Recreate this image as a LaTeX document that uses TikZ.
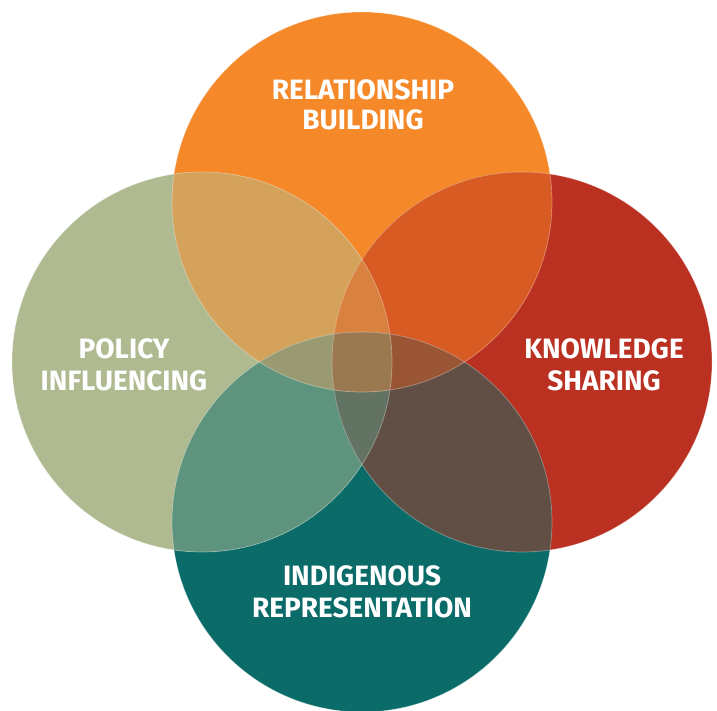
\documentclass[tikz,border=0pt]{standalone}
\usepackage{fontspec}
\setmainfont{Fira Sans}
\definecolor{cT}{HTML}{F5892A}
\definecolor{cR}{HTML}{BA3021}
\definecolor{cB}{HTML}{0B6B69}
\definecolor{cL}{HTML}{AFBA91}
\definecolor{cTL}{HTML}{D4A25A}
\definecolor{cTR}{HTML}{D75B23}
\definecolor{cLB}{HTML}{5E947E}
\definecolor{cRB}{HTML}{614F45}
\definecolor{cTLR}{HTML}{D98240}
\definecolor{cLRB}{HTML}{637363}
\definecolor{cTLB}{HTML}{9A9A72}
\definecolor{cTRB}{HTML}{9A5535}
\definecolor{cAll}{HTML}{9A7950}
\tikzset{
  lbl/.style={text=white, font=\fontsize{28}{32}\selectfont\bfseries, align=center, inner sep=0pt},
  edge/.style={draw=white, draw opacity=0.35, line width=0.7pt}
}
\newcommand{\cTop}{(362,202) circle (190pt)}
\newcommand{\cBot}{(362,522) circle (190pt)}
\newcommand{\cLef}{(202,362) circle (190pt)}
\newcommand{\cRig}{(522,362) circle (190pt)}
\begin{document}
\begin{tikzpicture}[x=1pt,y=-1pt]
\useasboundingbox (0,0) rectangle (717,710);
\clip (0,0) rectangle (717,710);
% base circles
\fill[cT] \cTop;
\fill[cR] \cRig;
\fill[cB] \cBot;
\fill[cL] \cLef;
% pairwise
\begin{scope}\clip \cTop; \fill[cTL] \cLef; \fill[cTR] \cRig; \end{scope}
\begin{scope}\clip \cBot; \fill[cLB] \cLef; \fill[cRB] \cRig; \end{scope}
% triples
\begin{scope}\clip \cLef; \clip \cRig; \fill[cTLR] \cTop; \fill[cLRB] \cBot; \end{scope}
\begin{scope}\clip \cTop; \clip \cBot; \fill[cTLB] \cLef; \fill[cTRB] \cRig; \end{scope}
% all four
\begin{scope}\clip \cTop; \clip \cBot; \clip \cLef; \fill[cAll] \cRig; \end{scope}
% edges
\draw[edge] \cTop; \draw[edge] \cBot; \draw[edge] \cLef; \draw[edge] \cRig;
% labels
\node[lbl, anchor=base] (rb1) at (363,99) {RELATIONSHIP};
\node[lbl, anchor=base] (rb2) at (363,129) {BUILDING};
\node[lbl, anchor=base] (pi1) at (124,358) {POLICY};
\node[lbl, anchor=base] (pi2) at (124,390) {INFLUENCING};
\node[lbl, anchor=base] (ks1) at (604,358) {KNOWLEDGE};
\node[lbl, anchor=base] (ks2) at (604,390) {SHARING};
\node[lbl, anchor=base] (ir1) at (362,585) {INDIGENOUS};
\node[lbl, anchor=base] (ir2) at (362,617) {REPRESENTATION};
\end{tikzpicture}
\end{document}
